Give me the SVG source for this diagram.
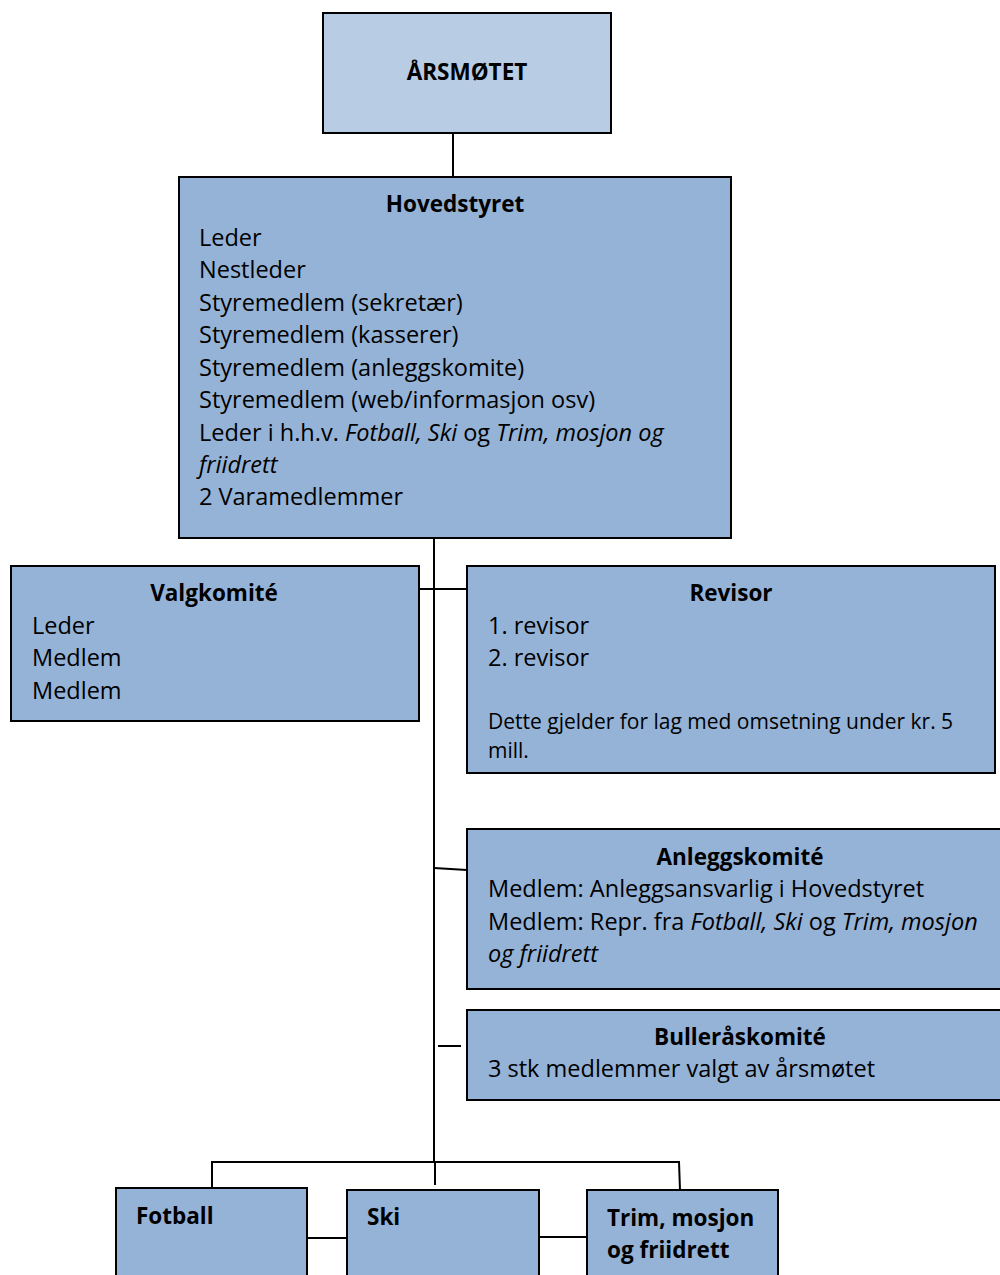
<svg xmlns="http://www.w3.org/2000/svg" width="1000" height="1275" viewBox="0 0 1000 1275">
<style>
.box{fill:#95b3d7;stroke:#000;stroke-width:2}
.top{fill:#b8cce4;stroke:#000;stroke-width:2}
.t{font-family:"Open Sans",Lato,"Liberation Sans",sans-serif;font-size:23.5px;fill:#000}
.b{font-weight:bold;font-size:22.5px}
.c{text-anchor:middle}
.i{font-style:italic}
.s{font-size:21px}
.conn line, .conn polyline{stroke:#000;stroke-width:2;fill:none}
</style>
<rect width="1000" height="1275" fill="#fff"/>
<g class="conn">
<line x1="453" y1="133" x2="453" y2="177"/>
<line x1="434" y1="538" x2="434" y2="1162"/>
<line x1="419" y1="589" x2="467" y2="589"/>
<line x1="434" y1="868" x2="467" y2="870"/>
<line x1="438" y1="1046" x2="461" y2="1046"/>
<polyline points="212,1188 212,1162 679,1162 680,1190"/>
<line x1="435" y1="1162" x2="435" y2="1185"/>
<line x1="307" y1="1238" x2="347" y2="1238"/>
<line x1="539" y1="1237" x2="587" y2="1237"/>
</g>
<g id="arsmotet">
<rect class="top" x="323" y="13" width="288" height="120"/>
<text class="t b c" x="467" y="80">ÅRSMØTET</text>
</g>
<g id="hovedstyret">
<rect class="box" x="179" y="177" width="552" height="361"/>
<text class="t b c" x="455" y="212">Hovedstyret</text>
<text class="t" x="199" y="246">Leder</text>
<text class="t" x="199" y="278">Nestleder</text>
<text class="t" x="199" y="311">Styremedlem (sekretær)</text>
<text class="t" x="199" y="343">Styremedlem (kasserer)</text>
<text class="t" x="199" y="376">Styremedlem (anleggskomite)</text>
<text class="t" x="199" y="408">Styremedlem (web/informasjon osv)</text>
<text class="t" x="199" y="441">Leder i h.h.v. <tspan class="i">Fotball, Ski</tspan> og <tspan class="i">Trim, mosjon og</tspan></text>
<text class="t i" x="199" y="473">friidrett</text>
<text class="t" x="199" y="505">2 Varamedlemmer</text>
</g>
<g id="valgkomite">
<rect class="box" x="11" y="566" width="408" height="155"/>
<text class="t b c" x="214" y="601">Valgkomité</text>
<text class="t" x="32" y="634">Leder</text>
<text class="t" x="32" y="666">Medlem</text>
<text class="t" x="32" y="699">Medlem</text>
</g>
<g id="revisor">
<rect class="box" x="467" y="566" width="528" height="207"/>
<text class="t b c" x="731" y="601">Revisor</text>
<text class="t" x="488" y="634">1. revisor</text>
<text class="t" x="488" y="666">2. revisor</text>
<text class="t s" x="488" y="729">Dette gjelder for lag med omsetning under kr. 5</text>
<text class="t s" x="488" y="758">mill.</text>
</g>
<g id="anleggskomite">
<rect class="box" x="467" y="829" width="548" height="160"/>
<text class="t b c" x="740" y="865">Anleggskomité</text>
<text class="t" x="488" y="897">Medlem: Anleggsansvarlig i Hovedstyret</text>
<text class="t" x="488" y="930">Medlem: Repr. fra <tspan class="i">Fotball, Ski</tspan> og <tspan class="i">Trim, mosjon</tspan></text>
<text class="t i" x="488" y="962">og friidrett</text>
</g>
<g id="bulleraskomite">
<rect class="box" x="467" y="1010" width="548" height="90"/>
<text class="t b c" x="740" y="1045">Bulleråskomité</text>
<text class="t" x="488" y="1077">3 stk medlemmer valgt av årsmøtet</text>
</g>
<g id="fotball">
<rect class="box" x="116" y="1188" width="191" height="100"/>
<text class="t b" x="136" y="1224">Fotball</text>
</g>
<g id="ski">
<rect class="box" x="347" y="1190" width="192" height="100"/>
<text class="t b" x="367" y="1225">Ski</text>
</g>
<g id="trim">
<rect class="box" x="587" y="1190" width="191" height="100"/>
<text class="t b" x="607" y="1226">Trim, mosjon</text>
<text class="t b" x="607" y="1258">og friidrett</text>
</g>
</svg>
